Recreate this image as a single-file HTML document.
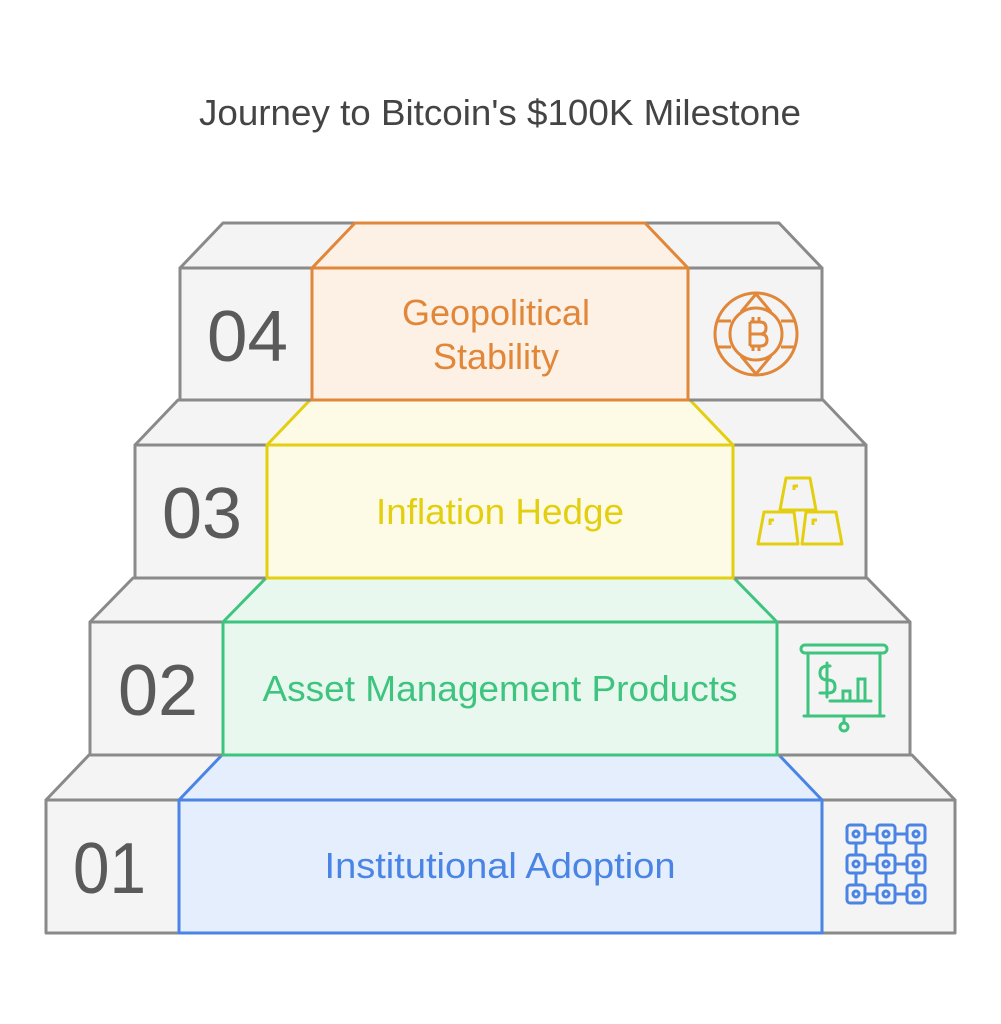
<!DOCTYPE html>
<html><head><meta charset="utf-8"><style>
html,body{margin:0;padding:0;background:#fff;}
svg{display:block;}
text{font-family:"Liberation Sans",sans-serif;}
.num{font-family:"DejaVu Sans ExtraLight","DejaVu Sans Light","Liberation Sans",sans-serif;font-weight:200;}
</style></head><body>
<svg width="1001" height="1024" viewBox="0 0 1001 1024" xmlns="http://www.w3.org/2000/svg">
<text x="500" y="125" text-anchor="middle" font-size="36" fill="#444" textLength="602" lengthAdjust="spacingAndGlyphs">Journey to Bitcoin's $100K Milestone</text>
<g stroke-width="3" stroke-linejoin="round">
<polygon points="89,755 912,755 955,800 46,800" fill="#f4f4f4" stroke="#8a8a8a"/>
<rect x="46" y="800" width="909" height="133" fill="#f4f4f4" stroke="#8a8a8a"/>
<polygon points="222,755 779,755 822,800 179,800" fill="#e4eefd" stroke="#4a84e4"/>
<rect x="179" y="800" width="643" height="133" fill="#e4eefd" stroke="#4a84e4"/>
<polygon points="133,578 867,578 910,622 90,622" fill="#f4f4f4" stroke="#8a8a8a"/>
<rect x="90" y="622" width="820" height="133" fill="#f4f4f4" stroke="#8a8a8a"/>
<polygon points="266,578 734,578 777,622 223,622" fill="#e8f8ef" stroke="#3ec47e"/>
<rect x="223" y="622" width="554" height="133" fill="#e8f8ef" stroke="#3ec47e"/>
<polygon points="178,400 823,400 866,445 135,445" fill="#f4f4f4" stroke="#8a8a8a"/>
<rect x="135" y="445" width="731" height="133" fill="#f4f4f4" stroke="#8a8a8a"/>
<polygon points="310,400 690,400 733,445 267,445" fill="#fdfbe6" stroke="#e3cf10"/>
<rect x="267" y="445" width="466" height="133" fill="#fdfbe6" stroke="#e3cf10"/>
<polygon points="223,223 779,223 822,268 180,268" fill="#f4f4f4" stroke="#8a8a8a"/>
<rect x="180" y="268" width="642" height="132" fill="#f4f4f4" stroke="#8a8a8a"/>
<polygon points="355,223 645,223 688,268 312,268" fill="#fdf0e4" stroke="#e0873a"/>
<rect x="312" y="268" width="376" height="132" fill="#fdf0e4" stroke="#e0873a"/>
</g>
<g class="num" font-size="72" fill="#5a5a5a">
<text x="207" y="361" textLength="81" lengthAdjust="spacingAndGlyphs">04</text>
<text x="162" y="538" textLength="80" lengthAdjust="spacingAndGlyphs">03</text>
<text x="118" y="715" textLength="80" lengthAdjust="spacingAndGlyphs">02</text>
<text x="73" y="893" textLength="73" lengthAdjust="spacingAndGlyphs">01</text>
</g>
<g font-size="36" text-anchor="middle">
<text x="496" y="325" fill="#e0873a">Geopolitical</text>
<text x="496" y="369" fill="#e0873a">Stability</text>
<text x="500" y="524" fill="#e3cf10" textLength="248" lengthAdjust="spacingAndGlyphs">Inflation Hedge</text>
<text x="500" y="701" fill="#3ec47e" textLength="475" lengthAdjust="spacingAndGlyphs">Asset Management Products</text>
<text x="500" y="878" fill="#4a84e4" textLength="351" lengthAdjust="spacingAndGlyphs">Institutional Adoption</text>
</g>
<g fill="none" stroke="#e0873a" stroke-width="3">
<circle cx="756" cy="334" r="41"/>
<circle cx="756" cy="334" r="26"/>
<path d="M756 294 L741 312 M756 294 L771 312 M756 374 L741 356 M756 374 L771 356"/>
<path d="M718 321 H731 M718 347 H731 M781 321 H794 M781 347 H794"/>
<path d="M750 322 V346 M750 322 H760 Q766 322 766 328 Q766 334 760 334 H750 M760 334 Q767 334 767 340 Q767 346 760 346 H750 M753 317 V322 M759 317 V322 M753 346 V351 M759 346 V351"/>
</g>
<g fill="none" stroke="#e3cf10" stroke-width="3" stroke-linejoin="round">
<path d="M786 478 H810 L816 510 H780 Z"/>
<path d="M764 512 H794 L798 544 H758 Z"/>
<path d="M806 512 H836 L842 544 H802 Z"/>
<path d="M794 490 V486 H798 M770 525 V520 H774 M813 525 V520 H817"/>
</g>
<g fill="none" stroke="#3ec47e" stroke-width="3" stroke-linecap="round">
<rect x="801" y="645" width="86" height="8" rx="4"/>
<path d="M808 653 V716 M880 653 V716 M804 716 H884 M844 716 V722"/>
<circle cx="844" cy="727" r="4"/>
<path d="M830 666 H828 Q820 666 820 673 Q820 680 828 680 Q835 680 835 687 Q835 693 828 693 H820 M827 663 V697"/>
<path d="M830 701 H871 M843 701 V691 H850 V701 M858 701 V679 H865 V701"/>
</g>
<g fill="none" stroke="#4a84e4" stroke-width="3">
<rect x="847" y="825" width="18" height="18" rx="3"/><rect x="877" y="825" width="18" height="18" rx="3"/><rect x="907" y="825" width="18" height="18" rx="3"/>
<rect x="847" y="855" width="18" height="18" rx="3"/><rect x="877" y="855" width="18" height="18" rx="3"/><rect x="907" y="855" width="18" height="18" rx="3"/>
<rect x="847" y="885" width="18" height="18" rx="3"/><rect x="877" y="885" width="18" height="18" rx="3"/><rect x="907" y="885" width="18" height="18" rx="3"/>
<circle cx="856" cy="834" r="3"/><circle cx="886" cy="834" r="3"/><circle cx="916" cy="834" r="3"/>
<circle cx="856" cy="864" r="3"/><circle cx="886" cy="864" r="3"/><circle cx="916" cy="864" r="3"/>
<circle cx="856" cy="894" r="3"/><circle cx="886" cy="894" r="3"/><circle cx="916" cy="894" r="3"/>
<path d="M865 834 H877 M895 834 H907 M865 864 H877 M895 864 H907 M865 894 H877 M895 894 H907 M856 843 V855 M886 843 V855 M916 843 V855 M856 873 V885 M886 873 V885 M916 873 V885"/>
</g>
</svg>
</body></html>
